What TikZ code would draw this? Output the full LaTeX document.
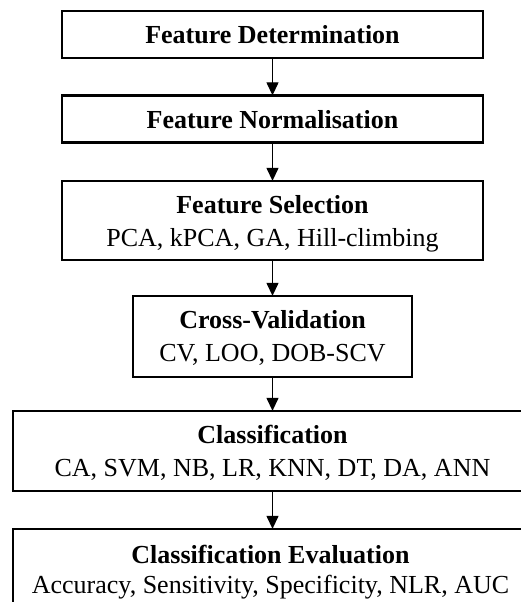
\documentclass[tikz,border=0pt]{standalone}
\usepackage{fontspec}
\setmainfont{Liberation Serif}
\usetikzlibrary{arrows.meta}

\tikzset{
  stagebox/.style={draw=black, line width=2.3pt, fill=white, inner sep=0pt},
  headtext/.style={anchor=base, inner sep=0pt, font=\fontsize{26}{30}\selectfont\bfseries},
  subtext/.style={anchor=base, inner sep=0pt, font=\fontsize{26}{30}\selectfont},
  flow/.style={draw=black, line width=1.2pt, -{Triangle[width=12pt,length=13pt]}, shorten >=-1pt}
}

\begin{document}
\begin{tikzpicture}[x=1pt,y=-1pt]
  \useasboundingbox (0,0) rectangle (521,602);
  \clip (0,0) rectangle (521,602);

  % stage frames (centre x = 272.5)
  \node[stagebox, minimum width=421pt, minimum height=47pt] (b1) at (272.5,34.5) {};
  \node[stagebox, minimum width=421pt, minimum height=47pt] (b2) at (272.5,119) {};
  \node[stagebox, minimum width=421pt, minimum height=79pt] (b3) at (272.5,220.5) {};
  \node[stagebox, minimum width=278.5pt, minimum height=81pt] (b4) at (272.5,336.5) {};
  \node[stagebox, minimum width=519.6pt, minimum height=80pt] (b5) at (272.5,451) {};
  \node[stagebox, minimum width=519.6pt, minimum height=80pt] (b6) at (272.5,569) {};

  % stage titles and methods
  \node[headtext] (t1) at (272.5,44) {Feature Determination};
  \node[headtext] (t2) at (272.5,128) {Feature Normalisation};
  \node[headtext] (t3) at (272.5,213) {Feature Selection};
  \node[subtext]  (s3) at (272.5,246) {PCA, kPCA, GA, Hill-climbing};
  \node[headtext] (t4) at (272.5,328) {Cross-Validation};
  \node[subtext]  (s4) at (272.5,361) {CV, LOO, DOB-SCV};
  \node[headtext] (t5) at (272.5,443) {Classification};
  \node[subtext]  (s5) at (272.5,476) {CA, SVM, NB, LR, KNN, DT, DA, ANN};
  \node[headtext] (t6) at (270.5,563) {Classification Evaluation};
  \node[subtext]  (s6) at (270.5,593) {Accuracy, Sensitivity, Specificity, NLR, AUC};

  % flow between stages
  \draw[flow] (b1.south) -- (b2.north);
  \draw[flow] (b2.south) -- (b3.north);
  \draw[flow] (b3.south) -- (b4.north);
  \draw[flow] (b4.south) -- (b5.north);
  \draw[flow] (b5.south) -- (b6.north);
\end{tikzpicture}
\end{document}
